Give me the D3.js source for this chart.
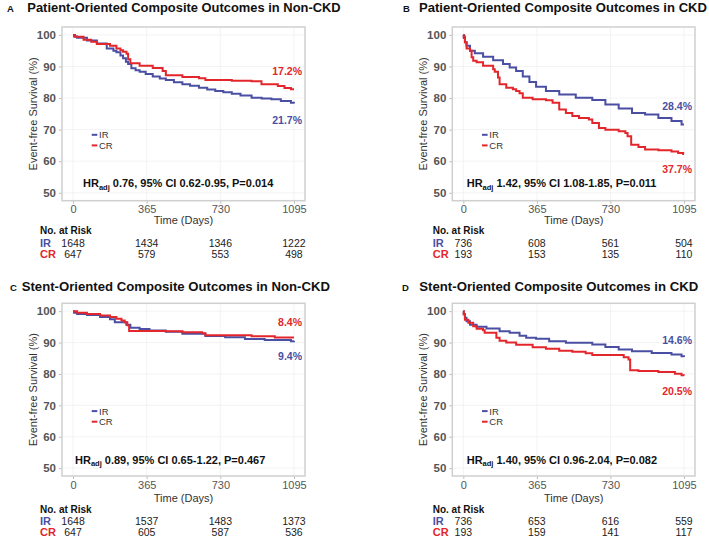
<!DOCTYPE html>
<html><head><meta charset="utf-8">
<script src="https://cdn.jsdelivr.net/npm/d3@7"></script>
<style>
body{margin:0;background:#fff;}
svg text{font-family:"Liberation Sans",Arial,sans-serif;}
</style></head>
<body><svg id="c" width="709" height="537"></svg>
<script>
// ---------- data ----------
const timeTicks = [0, 365, 730, 1095];
const survTicks = [50, 60, 70, 80, 90, 100];
const groups = ["IR", "CR"];

const titles = [
  "Patient-Oriented Composite Outcomes in Non-CKD",
  "Patient-Oriented Composite Outcomes in CKD",
  "Stent-Oriented Composite Outcomes in Non-CKD",
  "Stent-Oriented Composite Outcomes in CKD"
];
const panelLetters = ["A", "B", "C", "D"];

// Kaplan-Meier curves [day, survival %]
const poNonCkdIR = [[0,100],[5,99.5],[20,99.1],[69,98.2],[118,97.3],[167,95.7],[200,95.0],[215,94.5],[235,93.5],[248,92.6],[262,91.5],[273,90.8],[289,89.4],[310,88.8],[330,88.3],[360,87.6],[395,86.8],[430,86.2],[460,85.7],[500,85.0],[542,84.4],[580,83.9],[624,83.3],[665,82.7],[705,82.2],[745,81.8],[787,81.4],[830,80.8],[885,80.1],[935,79.9],[983,79.6],[1030,79.1],[1080,78.5],[1095,78.3]];
const poNonCkdCR = [[0,100],[10,99.4],[52,98.5],[90,97.8],[118,97.1],[183,96.6],[215,95.7],[235,95.1],[248,94.7],[265,94.0],[273,92.3],[284,91.0],[330,90.2],[395,89.5],[444,88.6],[460,87.2],[542,86.7],[624,86.3],[656,85.7],[787,85.5],[885,85.3],[934,84.4],[1015,83.8],[1048,83.2],[1080,82.8],[1095,82.8]];

const poCkdIR = [[0,100],[2,99.5],[8,97.7],[16,96.6],[33,95.0],[57,94.2],[98,93.1],[148,92.0],[197,90.8],[230,89.7],[262,88.6],[295,86.8],[328,85.1],[361,83.6],[410,82.2],[476,81.1],[558,80.1],[640,79.4],[705,78.0],[771,76.7],[837,75.3],[902,74.8],[968,73.7],[1033,72.7],[1083,71.6],[1095,71.6]];
const poCkdCR = [[0,100],[2,99.0],[8,97.7],[16,95.7],[33,95.0],[41,92.9],[49,91.8],[66,91.3],[98,90.2],[148,89.1],[156,88.3],[172,86.5],[180,84.4],[213,83.3],[246,82.8],[262,82.2],[279,81.5],[295,80.1],[344,79.6],[410,79.3],[443,78.5],[476,76.4],[509,75.3],[541,74.3],[574,73.7],[623,73.2],[640,72.1],[673,70.5],[705,70.0],[771,69.5],[804,68.9],[815,67.9],[833,65.2],[869,64.5],[902,63.7],[968,63.5],[1033,63.1],[1066,62.6],[1091,62.3],[1095,62.3]];

const soNonCkdIR = [[0,100],[5,99.5],[20,99.1],[69,98.8],[134,98.1],[183,97.4],[207,96.5],[264,95.7],[284,94.7],[330,94.3],[379,93.8],[460,93.4],[542,92.8],[656,92.1],[754,91.7],[852,91.1],[950,90.8],[1080,90.4],[1095,90.6]];
const soNonCkdCR = [[0,100],[20,99.5],[69,99.1],[134,98.6],[183,98.1],[215,97.6],[240,97.0],[256,96.5],[269,95.5],[278,93.7],[460,93.6],[542,93.3],[640,93.0],[656,92.3],[870,92.3],[885,92.0],[1000,91.6],[1095,91.6]];

const soCkdIR = [[0,100],[2,99.0],[8,97.9],[16,96.8],[33,95.7],[66,95.0],[115,94.5],[180,93.6],[230,93.1],[279,92.2],[312,91.5],[361,91.2],[426,90.4],[509,89.9],[640,89.4],[705,88.6],[771,87.8],[837,87.2],[935,86.7],[1033,86.2],[1083,85.6],[1095,85.4]];
const soCkdCR = [[0,100],[2,99.0],[8,97.3],[25,96.3],[49,95.2],[66,94.4],[98,93.9],[106,93.1],[156,93.1],[164,91.5],[180,90.6],[213,90.0],[262,89.3],[344,88.5],[410,88.0],[476,87.4],[541,87.1],[607,86.6],[640,86.0],[771,86.0],[796,85.3],[820,84.6],[828,81.2],[869,80.9],[968,80.6],[1050,80.1],[1083,79.6],[1095,79.5]];

const curvesIR = [poNonCkdIR, poCkdIR, soNonCkdIR, soCkdIR];
const curvesCR = [poNonCkdCR, poCkdCR, soNonCkdCR, soCkdCR];

// event rates at 3 years (%) and label heights (survival %)
const rateIR = ["21.7%", "28.4%", "9.4%", "14.6%"];
const rateCR = ["17.2%", "37.7%", "8.4%", "20.5%"];
const rateIRPos = [73.1, 77.5, 85.8, 90.9];
const rateCRPos = [88.6, 57.5, 96.6, 74.4];

const hrValue = ["0.76", "1.42", "0.89", "1.40"];
const ciText = ["0.62-0.95", "1.08-1.85", "0.65-1.22", "0.96-2.04"];
const pText = ["0.014", "0.011", "0.467", "0.082"];

// numbers at risk at 0, 365, 730, 1095 days
const riskIR = [[1648,1434,1346,1222],[736,608,561,504],[1648,1537,1483,1373],[736,653,616,559]];
const riskCR = [[647,579,553,498],[193,153,135,110],[647,605,587,536],[193,159,141,117]];

// ---------- layout ----------
const BLUE = "#4a4fa3", RED = "#e3262b";
const panels = [
  {left:62, right:305, top:27, bottom:200.7, letterX:7, titleX:27.3, titleY:11.8, titleW:313.4, tableX:40, hrX:83, extra:0},
  {left:452.3, right:695, top:27, bottom:200.7, letterX:403, titleX:419, titleY:11.8, titleW:288, tableX:432.7, hrX:466.7, extra:0},
  {left:62, right:305, top:303.3, bottom:476, letterX:10, titleX:21.7, titleY:290.8, titleW:308.3, tableX:40, hrX:75, extra:3},
  {left:452.3, right:695, top:303.3, bottom:476, letterX:402, titleX:419.3, titleY:290.8, titleW:279, tableX:432.7, hrX:466.7, extra:3}
];

const svg = d3.select("#c");

panels.forEach((p, i) => {
  const g = svg.append("g");
  const x = d3.scaleLinear().domain([-54.75, 1149.75]).range([p.left, p.right]);
  const y = d3.scaleLinear().domain([47.5, 102.5]).range([p.bottom, p.top]);

  // title
  g.append("text").attr("x", p.letterX).attr("y", p.titleY).attr("font-size", 9.5)
    .attr("font-weight", "bold").attr("fill", "#111").text(panelLetters[i]);
  g.append("text").attr("x", p.titleX).attr("y", p.titleY).attr("font-size", 12.6)
    .attr("font-weight", "bold").attr("fill", "#111")
    .attr("textLength", p.titleW).attr("lengthAdjust", "spacingAndGlyphs").text(titles[i]);

  // gridlines
  g.append("g").selectAll("line").data(survTicks).join("line")
    .attr("x1", p.left).attr("x2", p.right).attr("y1", d => y(d)).attr("y2", d => y(d))
    .attr("stroke", "#f0f0f0").attr("stroke-width", 0.8);
  g.append("g").selectAll("line").data(timeTicks).join("line")
    .attr("y1", p.top).attr("y2", p.bottom).attr("x1", d => x(d)).attr("x2", d => x(d))
    .attr("stroke", "#f0f0f0").attr("stroke-width", 0.8);

  // axes
  const ya = g.append("g").attr("transform", `translate(${p.left},0)`)
    .call(d3.axisLeft(y).tickValues(survTicks).tickFormat(d3.format("d")).tickSize(3).tickPadding(3));
  ya.select(".domain").remove();
  ya.selectAll("line").attr("stroke", "#bbb");
  ya.selectAll("text").attr("font-size", 11.5).attr("font-weight", "bold").attr("fill", "#555")
    .attr("font-family", "Liberation Sans, Arial, sans-serif");
  const xa = g.append("g").attr("transform", `translate(0,${p.bottom})`)
    .call(d3.axisBottom(x).tickValues(timeTicks).tickFormat(d3.format("d")).tickSize(3).tickPadding(2));
  xa.select(".domain").remove();
  xa.selectAll("line").attr("stroke", "#bbb");
  xa.selectAll("text").attr("font-size", 11).attr("fill", "#555")
    .attr("font-family", "Liberation Sans, Arial, sans-serif");

  // panel border
  g.append("rect").attr("x", p.left).attr("y", p.top).attr("width", p.right - p.left)
    .attr("height", p.bottom - p.top).attr("fill", "none").attr("stroke", "#cfcfcf").attr("stroke-width", 1.5);

  // axis titles
  g.append("text").attr("transform", `translate(${p.left - 25},${(p.top + p.bottom) / 2}) rotate(-90)`)
    .attr("text-anchor", "middle").attr("font-size", 11).attr("fill", "#333").text("Event-free Survival (%)");
  g.append("text").attr("x", (p.left + p.right) / 2).attr("y", p.bottom + 23.3 + p.extra)
    .attr("text-anchor", "middle").attr("font-size", 11).attr("fill", "#333").text("Time (Days)");

  // curves
  const line = d3.line().x(d => x(d[0])).y(d => y(d[1])).curve(d3.curveStepAfter);
  g.append("path").datum(curvesIR[i]).attr("d", line).attr("fill", "none")
    .attr("stroke", BLUE).attr("stroke-width", 2);
  g.append("path").datum(curvesCR[i]).attr("d", line).attr("fill", "none")
    .attr("stroke", RED).attr("stroke-width", 2);

  // rate labels
  g.append("text").attr("x", p.right - 3).attr("y", y(rateCRPos[i]) + 3.8).attr("text-anchor", "end")
    .attr("font-size", 10.5).attr("font-weight", "bold").attr("fill", RED).text(rateCR[i]);
  g.append("text").attr("x", p.right - 3).attr("y", y(rateIRPos[i]) + 3.8).attr("text-anchor", "end")
    .attr("font-size", 10.5).attr("font-weight", "bold").attr("fill", BLUE).text(rateIR[i]);

  // legend
  const legY0 = p.top + 107.8;
  groups.forEach((gr, k) => {
    const ly = legY0 + k * 10.6;
    g.append("line").attr("x1", p.left + 29.7).attr("x2", p.left + 35.3).attr("y1", ly).attr("y2", ly)
      .attr("stroke", k === 0 ? BLUE : RED).attr("stroke-width", 2);
    g.append("text").attr("x", p.left + 37).attr("y", ly + 3.4).attr("font-size", 9.5)
      .attr("fill", "#333").text(gr);
  });

  // HR text
  const hr = g.append("text").attr("x", p.hrX).attr("y", p.top + 156.5 + 3.9)
    .attr("font-size", 11).attr("font-weight", "bold").attr("fill", "#111");
  hr.append("tspan").text("HR");
  hr.append("tspan").attr("font-size", 7.5).attr("dy", 2.5).text("adj");
  hr.append("tspan").attr("dy", -2.5).text(` ${hrValue[i]}, 95% CI ${ciText[i]}, P=${pText[i]}`);

  // risk table
  g.append("text").attr("x", p.tableX).attr("y", p.bottom + 30 + p.extra + 3.6)
    .attr("font-size", 10).attr("font-weight", "bold").attr("fill", "#111").text("No. at Risk");
  [riskIR[i], riskCR[i]].forEach((row, k) => {
    const ry = p.bottom + 42 + k * 11.6 + p.extra + 3.8;
    g.append("text").attr("x", p.tableX).attr("y", ry).attr("font-size", 11).attr("font-weight", "bold")
      .attr("fill", k === 0 ? BLUE : RED).text(groups[k]);
    g.append("g").selectAll("text").data(row).join("text")
      .attr("x", (d, j) => x(timeTicks[j])).attr("y", ry).attr("text-anchor", "middle")
      .attr("font-size", 10.5).attr("fill", "#222").text(d => d);
  });
});
</script></body></html>
